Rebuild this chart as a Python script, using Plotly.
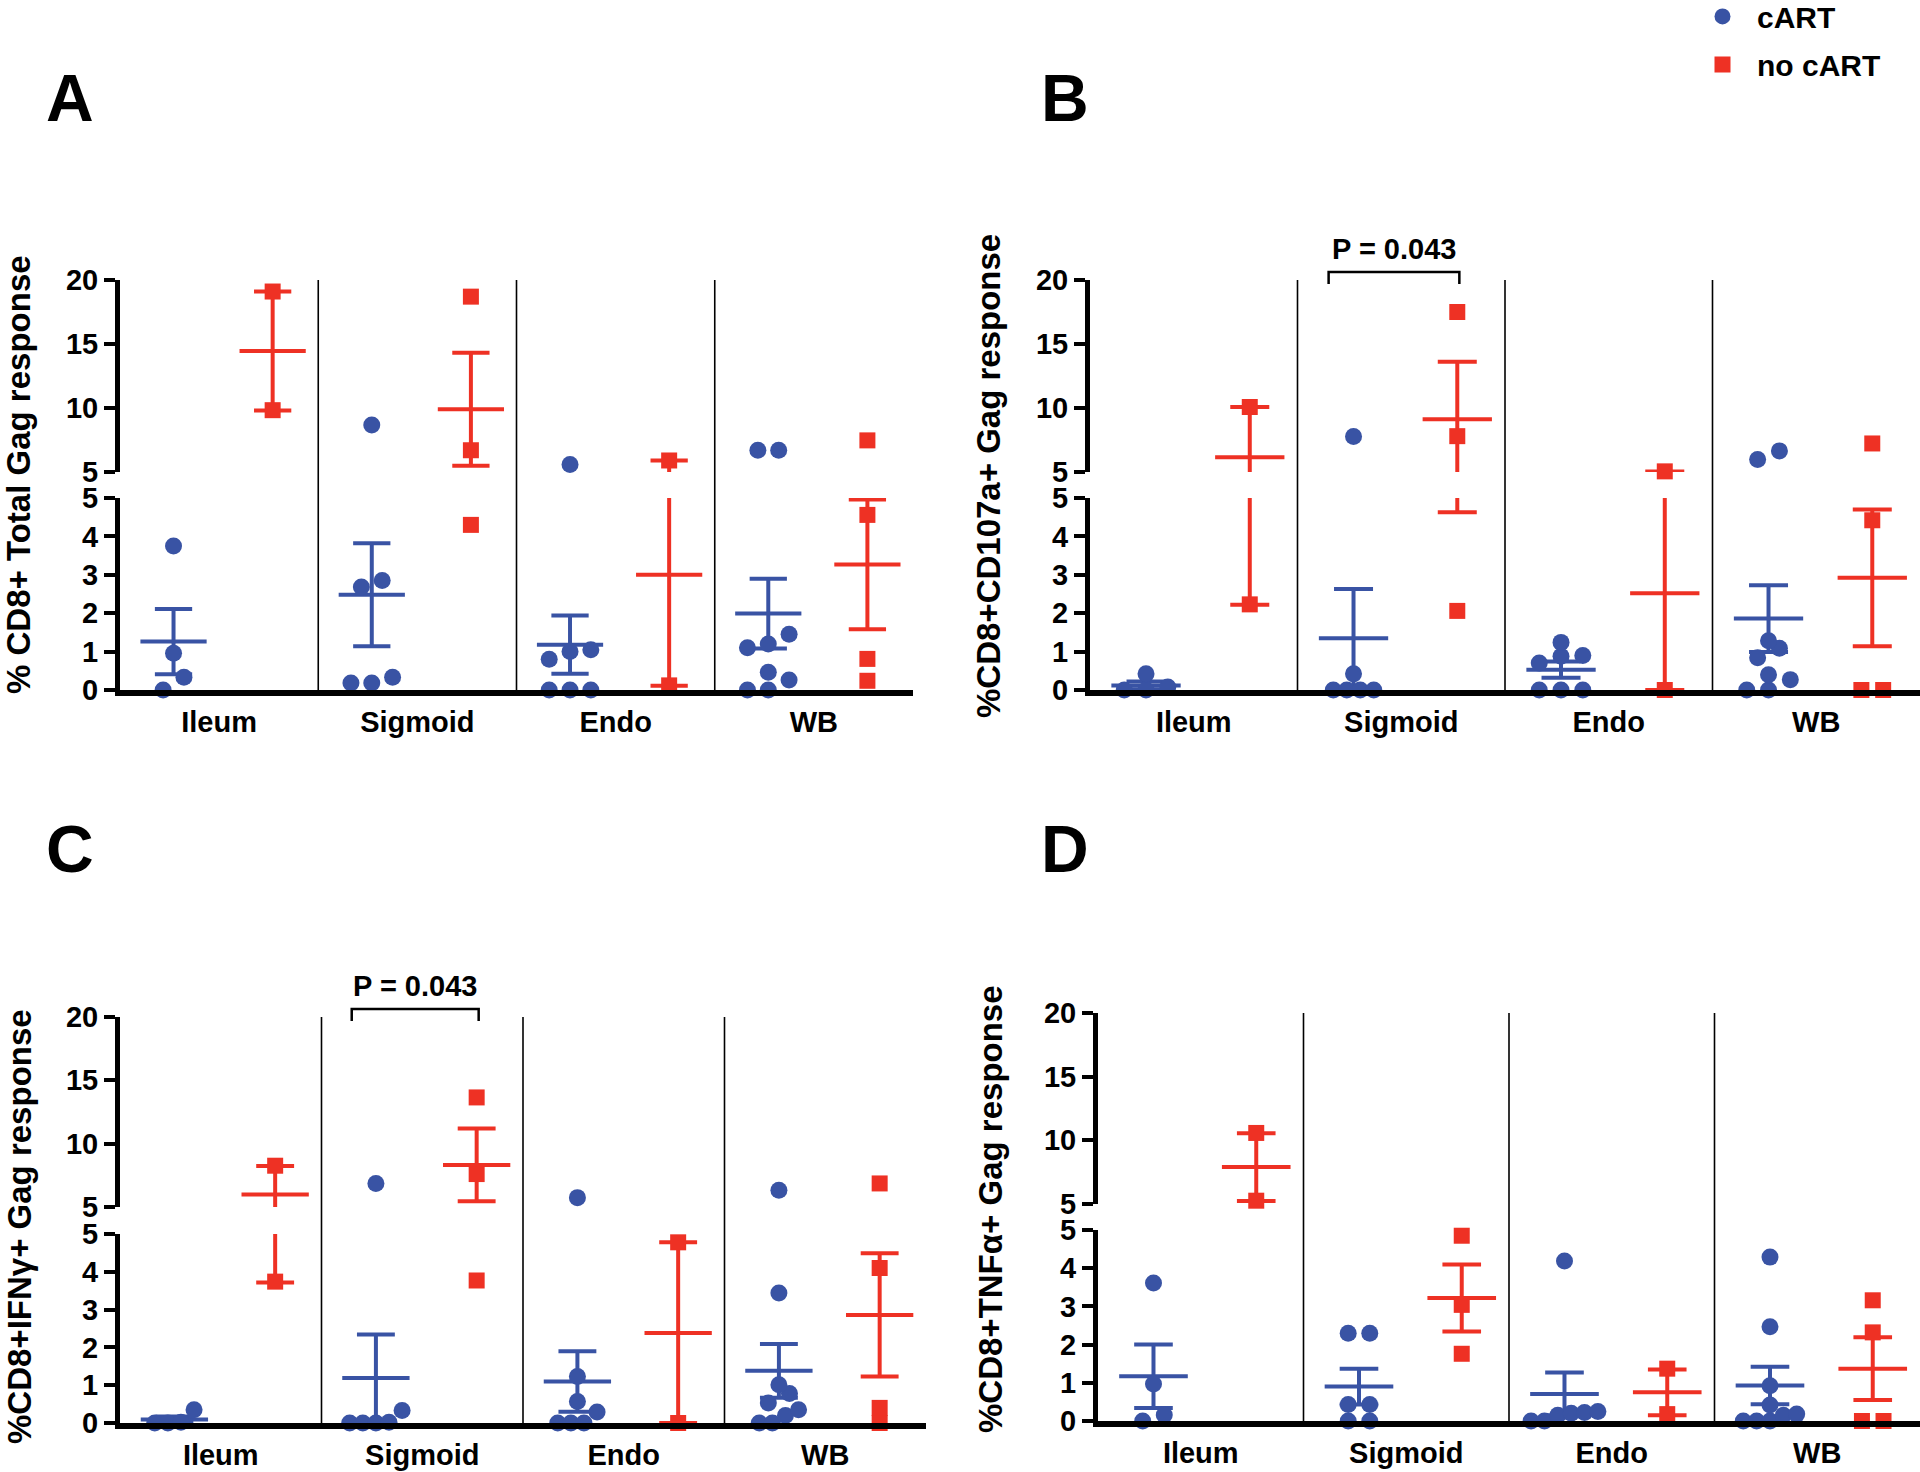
import plotly.graph_objects as go

W, H = 1920, 1472
BLUE = "#3953A4"
RED = "#EE3124"

categories = ["Ileum", "Sigmoid", "Endo", "WB"]

# A: % CD8+ Total Gag response
a_cart = [[3.75, 0.96, 0.33, 0.0],
          [8.67, 2.85, 2.68, 0.33, 0.18, 0.18],
          [5.58, 1.05, 1.0, 0.8, 0.0, 0.0, 0.0],
          [6.7, 6.7, 1.45, 1.2, 1.1, 0.46, 0.26, 0.0, 0.0]]
a_cart_mean = [1.26, 2.48, 1.18, 1.99]
a_cart_sem = [0.85, 1.34, 0.76, 0.91]
a_nocart = [[19.1, 9.83], [18.7, 6.7, 4.3], [5.9, 0.12], [7.47, 4.56, 0.81, 0.24]]
a_nocart_mean = [14.45, 9.9, 3.0, 3.27]
a_nocart_sem = [4.65, 4.42, 2.89, 1.69]

# B: %CD8+CD107a+ Gag response
b_cart = [[0.42, 0.08, 0.0, 0.0],
          [7.77, 0.42, 0.0, 0.0, 0.0, 0.0],
          [1.24, 0.9, 0.88, 0.7, 0.0, 0.0, 0.0],
          [6.65, 5.98, 1.28, 1.09, 0.84, 0.4, 0.27, 0.0, 0.0]]
b_cart_mean = [0.12, 1.35, 0.53, 1.86]
b_cart_sem = [0.1, 1.28, 0.21, 0.87]
b_nocart = [[10.08, 2.23], [17.5, 7.8, 2.06], [5.05, 0.0], [7.23, 4.42, 0.0, 0.0]]
b_nocart_mean = [6.15, 9.12, 2.52, 2.92]
b_nocart_sem = [3.93, 4.49, 2.52, 1.78]

# C: %CD8+IFNγ+ Gag response
c_cart = [[0.35, 0.02, 0.0, 0.0],
          [6.86, 0.33, 0.02, 0.0, 0.0, 0.0],
          [5.74, 1.23, 0.57, 0.29, 0.0, 0.0, 0.0],
          [6.33, 3.44, 1.01, 0.78, 0.53, 0.35, 0.2, 0.0, 0.0]]
c_cart_mean = [0.09, 1.19, 1.1, 1.38]
c_cart_sem = [0.085, 1.15, 0.8, 0.71]
c_nocart = [[8.26, 3.74], [13.65, 7.6, 3.77], [4.78, 0.0], [6.86, 4.1, 0.4, 0.0]]
c_nocart_mean = [5.98, 8.32, 2.38, 2.86]
c_nocart_sem = [2.26, 2.87, 2.4, 1.63]

# D: %CD8+TNFα+ Gag response
d_cart = [[3.61, 0.97, 0.16, 0.0],
          [2.3, 2.3, 0.43, 0.43, 0.0, 0.0],
          [4.19, 0.25, 0.22, 0.2, 0.15, 0.0, 0.0],
          [4.29, 2.47, 0.92, 0.42, 0.18, 0.15, 0.0, 0.0, 0.0]]
d_cart_mean = [1.17, 0.9, 0.71, 0.93]
d_cart_sem = [0.83, 0.47, 0.56, 0.49]
d_nocart = [[10.58, 5.26], [4.85, 3.04, 1.76], [1.37, 0.18], [3.16, 2.32, 0.0, 0.0]]
d_nocart_mean = [7.9, 3.22, 0.75, 1.37]
d_nocart_sem = [2.66, 0.88, 0.6, 0.82]

p_text = "P = 0.043"

panels = [
    dict(letter="A", title="% CD8+ Total Gag response",
         cart=(a_cart, a_cart_mean, a_cart_sem), nocart=(a_nocart, a_nocart_mean, a_nocart_sem), p=None,
         box=(120, 913, 280, 472, 498, 690), title_xy=(19, 475), letter_xy=(70, 98)),
    dict(letter="B", title="%CD8+CD107a+ Gag response",
         cart=(b_cart, b_cart_mean, b_cart_sem), nocart=(b_nocart, b_nocart_mean, b_nocart_sem), p=p_text,
         box=(1090, 1920, 280, 472, 498, 690), title_xy=(988, 476), letter_xy=(1065, 98)),
    dict(letter="C", title="%CD8+IFNγ+ Gag response",
         cart=(c_cart, c_cart_mean, c_cart_sem), nocart=(c_nocart, c_nocart_mean, c_nocart_sem), p=p_text,
         box=(120, 926, 1017, 1207, 1234, 1423), title_xy=(19, 1227), letter_xy=(70, 849)),
    dict(letter="D", title="%CD8+TNFα+ Gag response",
         cart=(d_cart, d_cart_mean, d_cart_sem), nocart=(d_nocart, d_nocart_mean, d_nocart_sem), p=None,
         box=(1098, 1920, 1013, 1204, 1230, 1421), title_xy=(990, 1209), letter_xy=(1065, 849)),
]

CART_POS, NOCART_POS = 0.27, 0.77
BREAK = 5.0
SANS = "Liberation Sans, Arial, sans-serif"


def px_h(v):
    # rough pixel height used only for grouping points into rows
    return v * 38.0 if v <= BREAK else BREAK * 38.0 + 26 + (v - BREAK) * 12.7


def swarm(values, centre):
    rows = []
    for v in sorted(values):
        if rows and px_h(v) - px_h(rows[-1][0]) < 14:
            rows[-1].append(v)
        else:
            rows.append([v])
    pts = []
    for row in rows:
        n = len(row)
        step = 0.105 if n <= 3 else 0.065
        for k, v in enumerate(row):
            pts.append((centre + (k - (n - 1) / 2) * step, v))
    return pts


def vseg(x, lo, hi, low_xy, up_xy):
    if lo < BREAK:
        low_xy[0].extend([x, x, None])
        low_xy[1].extend([lo, min(hi, BREAK), None])
    if hi > BREAK:
        up_xy[0].extend([x, x, None])
        up_xy[1].extend([max(lo, BREAK), hi, None])


def hseg(xc, half, y, low_xy, up_xy):
    tgt = low_xy if y <= BREAK else up_xy
    tgt[0].extend([xc - half, xc + half, None])
    tgt[1].extend([y, y, None])


fig = go.Figure()
shapes, annotations = [], []

for i, p in enumerate(panels):
    xn = "x" if i == 0 else f"x{i + 1}"
    yl = "y" if i == 0 else f"y{2 * i + 1}"
    yu = f"y{2 * i + 2}"
    x0, x1, y20, y5u, y5l, y0 = p["box"]

    for (vals, means, sems), pos, color, sym, size, name in [
        (p["cart"], CART_POS, BLUE, "circle", 17, "cART"),
        (p["nocart"], NOCART_POS, RED, "square", 16, "no cART"),
    ]:
        low, up = [[], []], [[], []]
        lpts, upts = [[], []], [[], []]
        for c in range(len(categories)):
            xc = c + pos
            m, s = means[c], sems[c]
            lo, hi = max(m - s, 0), m + s
            vseg(xc, lo, hi, low, up)
            hseg(xc, 0.167, m, low, up)
            hseg(xc, 0.094, hi, low, up)
            hseg(xc, 0.094, lo, low, up)
            for xx, v in swarm(vals[c], xc):
                tgt = lpts if v <= BREAK else upts
                tgt[0].append(xx)
                tgt[1].append(v)
        for (lx, ly), ya in [(low, yl), (up, yu)]:
            fig.add_trace(go.Scatter(x=lx, y=ly, xaxis=xn, yaxis=ya, mode="lines",
                                     line=dict(color=color, width=4), showlegend=False,
                                     hoverinfo="skip"))
        for k, ((px_, py_), ya) in enumerate([(lpts, yl), (upts, yu)]):
            fig.add_trace(go.Scatter(x=px_, y=py_, xaxis=xn, yaxis=ya, mode="markers", name=name,
                                     marker=dict(color=color, symbol=sym, size=size, line=dict(width=0)),
                                     cliponaxis=False, legendgroup=name,
                                     showlegend=(i == 0 and k == 0)))

    xd = [x0 / W, x1 / W]
    low_dom = [1 - y0 / H, 1 - y5l / H]
    up_dom = [1 - y5u / H, 1 - y20 / H]
    tick_style = dict(showline=True, linecolor="black", linewidth=5, ticks="outside",
                      ticklen=11, tickwidth=4, tickcolor="black", showgrid=False, zeroline=False,
                      tickfont=dict(family=SANS, size=29, color="black", weight="bold"),
                      ticklabelstandoff=0, automargin=False)
    fig.update_layout(**{
        ("xaxis" if i == 0 else f"xaxis{i + 1}"): dict(
            domain=xd, range=[0, 4], anchor=yl, showline=True, linecolor="black", linewidth=6,
            ticks="", tickvals=[c + 0.5 for c in range(len(categories))], ticktext=categories,
            tickfont=dict(family=SANS, size=29, color="black", weight="bold"),
            ticklabelstandoff=1, showgrid=False, zeroline=False, automargin=False),
        ("yaxis" if i == 0 else f"yaxis{2 * i + 1}"): dict(
            domain=low_dom, range=[0, 5], anchor=xn, tickvals=[0, 1, 2, 3, 4, 5], **tick_style),
        f"yaxis{2 * i + 2}": dict(
            domain=up_dom, range=[5, 20], anchor=xn, tickvals=[5, 10, 15, 20], **tick_style),
    })

    for c in range(1, len(categories)):
        shapes.append(dict(type="line", xref=xn, yref="paper", x0=c, x1=c,
                           y0=low_dom[0], y1=up_dom[1], line=dict(color="black", width=1.6)))

    tx, ty = p["title_xy"]
    annotations.append(dict(text=p["title"], x=tx / W, y=1 - ty / H, xref="paper", yref="paper",
                            textangle=-90, showarrow=False, xanchor="center", yanchor="middle",
                            font=dict(family=SANS, size=33, color="black", weight="bold")))
    lx, ly = p["letter_xy"]
    annotations.append(dict(text=p["letter"], x=lx / W, y=1 - ly / H, xref="paper", yref="paper",
                            showarrow=False, xanchor="center", yanchor="middle",
                            font=dict(family=SANS, size=66, color="black", weight="bold")))

    if p["p"]:
        bl, br = 1 + CART_POS - 0.12, 1 + NOCART_POS + 0.01
        ytop, yend = 1 - (y20 - 8) / H, 1 - (y20 + 4) / H
        shapes.append(dict(type="path", xref=xn, yref="paper",
                           path=f"M {bl},{yend} L {bl},{ytop} L {br},{ytop} L {br},{yend}",
                           line=dict(color="black", width=2.5)))
        annotations.append(dict(text=p["p"], x=(bl + br) / 2, y=1 - (y20 - 31) / H, xref=xn,
                                yref="paper", showarrow=False, xanchor="center", yanchor="middle",
                                font=dict(family=SANS, size=29, color="black", weight="bold")))

fig.update_layout(
    width=W, height=H, margin=dict(l=0, r=0, t=0, b=0, autoexpand=False),
    paper_bgcolor="white", plot_bgcolor="white",
    shapes=shapes, annotations=annotations,
    legend=dict(x=1688 / W, y=1.0065, xanchor="left", yanchor="top", itemwidth=59,
                traceorder="grouped", tracegroupgap=6, bgcolor="rgba(0,0,0,0)",
                font=dict(family=SANS, size=30, color="black", weight="bold")),
)

fig.write_html("out.html", config={"displayModeBar": False},
               post_script="document.body.style.margin='0';")
